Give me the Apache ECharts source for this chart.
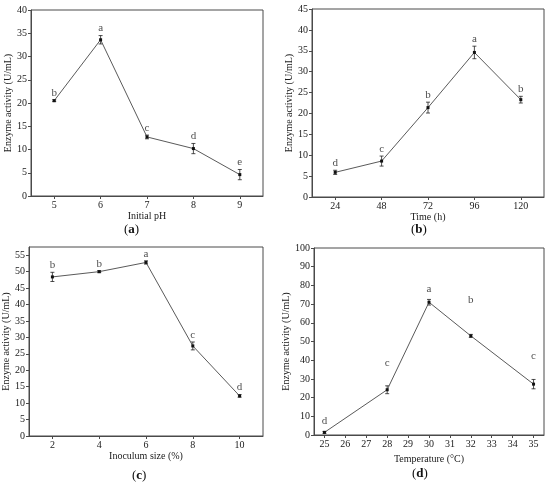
<!DOCTYPE html>
<html>
<head>
<meta charset="utf-8">
<script src="https://cdn.jsdelivr.net/npm/echarts@6/dist/echarts.min.js"></script>
<style>
  html, body { margin: 0; padding: 0; background: #fff; }
  #charts { width: 550px; height: 487px; }
</style>
</head>
<body>
<div id="charts"></div>
<script>
// (a) initial pH
var phX = [5, 6, 7, 8, 9];
var phVal = [20.5, 33.6, 12.7, 10.2, 4.6];
var phErr = [0.2, 0.9, 0.4, 1.1, 1.1];
var phLetters = ['b', 'a', 'c', 'd', 'e'];
var phTicks = [5, 6, 7, 8, 9];

// (b) time
var timeX = [24, 48, 72, 96, 120];
var timeVal = [5.9, 8.6, 21.4, 34.6, 23.3];
var timeErr = [0.5, 1.2, 1.3, 1.5, 0.8];
var timeLetters = ['d', 'c', 'b', 'a', 'b'];
var timeTicks = [24, 48, 72, 96, 120];

// (c) inoculum size
var inocX = [2, 4, 6, 8, 10];
var inocVal = [48.4, 50.0, 52.8, 27.4, 12.2];
var inocErr = [1.4, 0.3, 0.5, 1.2, 0.4];
var inocLetters = ['b', 'b', 'a', 'c', 'd'];
var inocTicks = [2, 4, 6, 8, 10];

// (d) temperature
var tempX = [25, 28, 30, 32, 35];
var tempVal = [1.4, 24.2, 71.0, 53.0, 27.2];
var tempErr = [0.5, 2.1, 1.5, 0.8, 2.5];
var tempLetters = ['d', 'c', 'a', 'b', 'c'];
var tempLetterY = [3.5, 34.5, 74.5, 68.5, 38.5];
var tempTicks = [25, 26, 27, 28, 29, 30, 31, 32, 33, 34, 35];

var FONT = '"Liberation Serif", "Times New Roman", serif';
var AXC = '#4a4a4a';

function xAxis(idx, name, min, max, ticks, gap) {
    return {
        type: 'value', gridIndex: idx, min: min, max: max,
        name: name, nameLocation: 'middle', nameGap: gap,
        nameTextStyle: { fontFamily: FONT, fontSize: 10, color: '#1a1a1a' },
        axisLine: { onZero: false, lineStyle: { color: AXC, width: 1 } },
        axisTick: { show: true, length: 3, customValues: ticks, lineStyle: { color: AXC } },
        axisLabel: { customValues: ticks, fontFamily: FONT, fontSize: 10, color: '#1a1a1a', margin: 4 },
        splitLine: { show: false }
    };
}

function yAxis(idx, max, interval, gap) {
    return {
        type: 'value', gridIndex: idx, min: 0, max: max, interval: interval,
        name: 'Enzyme activity (U/mL)', nameLocation: 'middle', nameGap: gap,
        nameTextStyle: { fontFamily: FONT, fontSize: 10, color: '#1a1a1a' },
        axisLine: { show: true, lineStyle: { color: AXC, width: 1 } },
        axisTick: { show: true, length: 3, lineStyle: { color: AXC } },
        axisLabel: { fontFamily: FONT, fontSize: 10, color: '#1a1a1a', margin: 4,
            showMaxLabel: max % interval === 0 },
        splitLine: { show: false }
    };
}

function pairs(xs, ys) {
    return xs.map(function (x, i) { return [x, ys[i]]; });
}

function errorBars(idx, xs, vals, errs) {
    return {
        type: 'custom', xAxisIndex: idx, yAxisIndex: idx, z: 3,
        data: xs.map(function (x, i) { return [x, vals[i] - errs[i], vals[i] + errs[i]]; }),
        renderItem: function (params, api) {
            var lo = api.coord([api.value(0), api.value(1)]);
            var hi = api.coord([api.value(0), api.value(2)]);
            var w = 2;
            var st = { stroke: '#222', lineWidth: 0.8 };
            return {
                type: 'group',
                children: [
                    { type: 'line', shape: { x1: lo[0], y1: lo[1], x2: hi[0], y2: hi[1] }, style: st },
                    { type: 'line', shape: { x1: lo[0] - w, y1: lo[1], x2: lo[0] + w, y2: lo[1] }, style: st },
                    { type: 'line', shape: { x1: hi[0] - w, y1: hi[1], x2: hi[0] + w, y2: hi[1] }, style: st }
                ]
            };
        }
    };
}

function dataLine(idx, xs, vals) {
    return {
        type: 'line', xAxisIndex: idx, yAxisIndex: idx, z: 4,
        data: pairs(xs, vals),
        symbol: 'rect', symbolSize: 3, showSymbol: true,
        itemStyle: { color: '#111' },
        lineStyle: { color: '#5a5a5a', width: 1 },
        animation: false
    };
}

function letters(idx, xs, ys, txt, dist) {
    return {
        type: 'scatter', xAxisIndex: idx, yAxisIndex: idx, z: 5,
        symbolSize: 1, itemStyle: { color: 'rgba(0,0,0,0)' },
        data: xs.map(function (x, i) { return { value: [x, ys[i]], name: txt[i] }; }),
        label: {
            show: true, position: 'top', distance: dist,
            formatter: function (p) { return p.name; },
            fontFamily: FONT, fontSize: 11, color: '#1a1a1a'
        },
        silent: true, animation: false
    };
}

function topOf(vals, errs) {
    return vals.map(function (v, i) { return v + errs[i]; });
}

function panelLabel(ch, cx, cy) {
    return {
        type: 'text', left: cx - 9, top: cy - 7,
        style: {
            text: '{p|(}{b|' + ch + '}{p|)}',
            rich: {
                p: { fontFamily: FONT, fontSize: 13, fill: '#111' },
                b: { fontFamily: FONT, fontSize: 13, fontWeight: 'bold', fill: '#111' }
            }
        }
    };
}

var myChart = echarts.init(document.getElementById('charts'));

myChart.setOption({
    backgroundColor: '#fff',
    animation: false,
    grid: [
        { left: 31, top: 10, width: 232, height: 186, show: true, borderColor: AXC, borderWidth: 1 },
        { left: 312, top: 9, width: 232, height: 188, show: true, borderColor: AXC, borderWidth: 1 },
        { left: 29, top: 247, width: 234, height: 189, show: true, borderColor: AXC, borderWidth: 1 },
        { left: 314, top: 248, width: 230, height: 187, show: true, borderColor: AXC, borderWidth: 1 }
    ],
    xAxis: [
        xAxis(0, 'Initial pH', 4.5, 9.5, phTicks, 11),
        xAxis(1, 'Time (h)', 12, 132, timeTicks, 15),
        xAxis(2, 'Inoculum size (%)', 1, 11, inocTicks, 14),
        xAxis(3, 'Temperature (\u00b0C)', 24.5, 35.5, tempTicks, 19)
    ],
    yAxis: [
        yAxis(0, 40, 5, 17),
        yAxis(1, 45, 5, 17),
        yAxis(2, 57.5, 5, 16),
        yAxis(3, 100, 10, 20)
    ],
    series: [
        dataLine(0, phX, phVal),
        errorBars(0, phX, phVal, phErr),
        letters(0, phX, topOf(phVal, phErr), phLetters, 1),

        dataLine(1, timeX, timeVal),
        errorBars(1, timeX, timeVal, timeErr),
        letters(1, timeX, topOf(timeVal, timeErr), timeLetters, 1),

        dataLine(2, inocX, inocVal),
        errorBars(2, inocX, inocVal, inocErr),
        letters(2, inocX, topOf(inocVal, inocErr), inocLetters, 1),

        dataLine(3, tempX, tempVal),
        errorBars(3, tempX, tempVal, tempErr),
        letters(3, tempX, tempLetterY, tempLetters, 1)
    ],
    graphic: [
        panelLabel('a', 133, 230),
        panelLabel('b', 420, 230),
        panelLabel('c', 141, 476),
        panelLabel('d', 421, 474)
    ]
});
</script>
</body>
</html>
